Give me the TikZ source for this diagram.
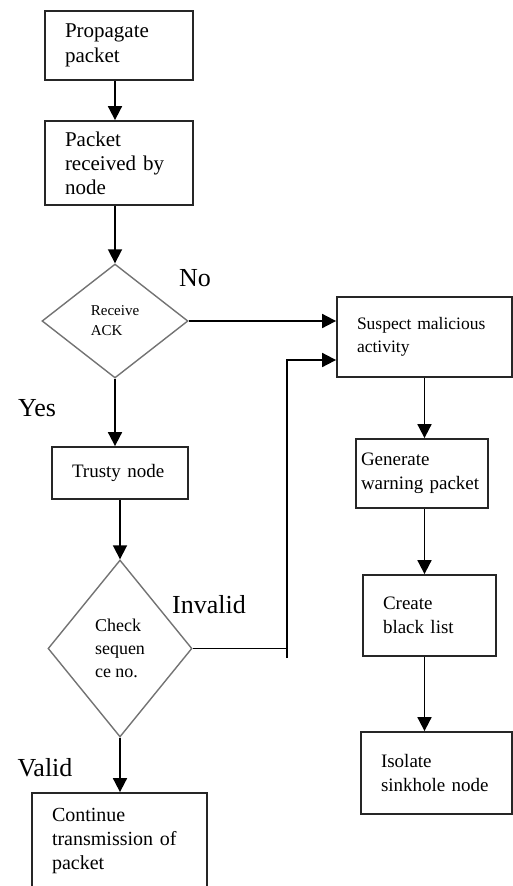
\documentclass[tikz,border=0pt]{standalone}
\usepackage{fontspec}
\setmainfont{Liberation Serif}
\usetikzlibrary{arrows.meta,shapes.geometric}

\begin{document}
\begin{tikzpicture}[
    x=1pt, y=1pt,
    stepbox/.style={
      draw=black!85, line width=1.8pt, align=left,
      inner xsep=20pt, inner ysep=0pt,
      font=\fontsize{19}{24}\selectfont
    },
    decision/.style={
      diamond, draw=black!55, line width=1.4pt, align=left,
      inner sep=0pt, font=\fontsize{18}{23}\selectfont
    },
    arr/.style={-{Triangle[length=14pt,width=14pt]}, line width=1.8pt},
    link/.style={line width=1.8pt},
    branch/.style={font=\fontsize{26}{30}\selectfont}
  ]
  \useasboundingbox (0,0) rectangle (513,-886);
  \clip (0,0) rectangle (513,-886);

  % Left column
  \node[stepbox, text width=108pt, minimum height=69pt, font=\fontsize{21}{25}\selectfont]
    (prop) at (119,-45.5) {Propagate\\packet};
  \node[stepbox, text width=108pt, minimum height=84pt, font=\fontsize{21}{24}\selectfont]
    (recv) at (119,-163) {Packet\\received by\\node};
  \node[decision, minimum width=146pt, minimum height=114pt, font=\fontsize{15}{20}\selectfont]
    (d1) at (115,-321) {Receive\\ACK};
  \node[stepbox, text width=96pt, minimum height=52pt] (trusty) at (120,-473) {Trusty node};
  \node[decision, minimum width=144pt, minimum height=177pt]
    (d2) at (120,-648.5) {Check\\sequen\\ce no.};
  \node[stepbox, text width=135pt, minimum height=96pt, font=\fontsize{20}{24}\selectfont]
    (cont) at (119.5,-841) {Continue\\transmission of\\packet};

  % Right column
  \node[stepbox, text width=135pt, minimum height=80pt, font=\fontsize{17.5}{23}\selectfont]
    (sus) at (424.5,-337) {Suspect malicious\\activity};
  \node[stepbox, inner xsep=5pt, text width=122pt, minimum height=69pt]
    (gen) at (422,-473.5) {Generate\\warning packet};
  \node[stepbox, text width=93pt, minimum height=81pt] (crt) at (429.5,-615.5) {Create\\black list};
  \node[stepbox, text width=111pt, minimum height=82pt] (iso) at (436.5,-773) {Isolate\\sinkhole node};

  % Branch labels
  \node[branch] (lblno) at (195,-278) {No};
  \node[branch] (lblyes) at (37,-408) {Yes};
  \node[branch] (lblinvalid) at (209,-605) {Invalid};
  \node[branch] (lblvalid) at (45,-768) {Valid};

  \coordinate (bend) at (287,-360);
  \coordinate (stub) at (287,-658);

  % Arrows
  \draw[arr] (prop.south -| d1) -- (recv.north -| d1);
  \draw[arr] (recv.south -| d1) -- (d1.north);
  \draw[arr] (d1.south) -- (trusty.north -| d1);
  \draw[arr] (trusty.south) -- (d2.north);
  \draw[arr] (d2.south) -- (cont.north -| d2);
  \draw[arr] (d1.east) -- (d1.east -| sus.west);
  \draw[link] (d2.east) -- (d2.east -| stub);
  \draw[arr] (stub) -- (bend) -- (bend -| sus.west);
  \draw[arr] (sus.south) -- (gen.north -| sus);
  \draw[arr] (gen.south -| sus) -- (crt.north -| sus);
  \draw[arr] (crt.south -| sus) -- (iso.north -| sus);

\end{tikzpicture}
\end{document}
